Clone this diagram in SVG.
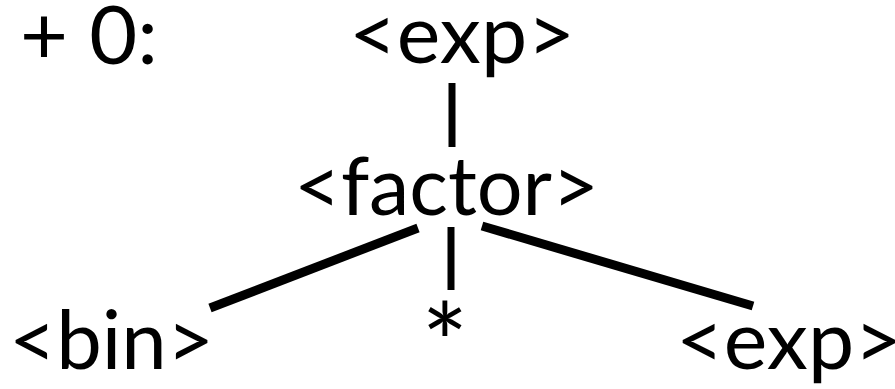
<svg xmlns="http://www.w3.org/2000/svg" width="895" height="389" viewBox="0 0 895 389">
<style>
text{font-family:"Lato","Noto Sans",sans-serif;font-size:82px;fill:#000}
.e{stroke:#000;stroke-width:9;fill:none}
.v{stroke-width:7}
</style>
<rect width="895" height="389" fill="#fff"/>
<g id="label"><text x="20" y="64" textLength="138" lengthAdjust="spacingAndGlyphs">+ 0:</text></g>
<g id="exp-top"><text x="349" y="63" textLength="226" lengthAdjust="spacingAndGlyphs">&lt;exp&gt;</text></g>
<g id="factor"><text x="294" y="215" textLength="305" lengthAdjust="spacingAndGlyphs">&lt;factor&gt;</text></g>
<g id="bin"><text x="9" y="369" textLength="205" lengthAdjust="spacingAndGlyphs">&lt;bin&gt;</text></g>
<g id="star"><text x="445" y="384" text-anchor="middle" style="font-size:110px">*</text></g>
<g id="exp-bottom"><text x="676" y="369" textLength="226" lengthAdjust="spacingAndGlyphs">&lt;exp&gt;</text></g>
<g id="connectors">
<line class="e v" x1="452" y1="83" x2="452" y2="147"/>
<line class="e" x1="418" y1="228" x2="210" y2="308"/>
<line class="e v" x1="451" y1="227" x2="451" y2="290"/>
<line class="e" x1="482" y1="226" x2="753" y2="306"/>
</g>
</svg>
